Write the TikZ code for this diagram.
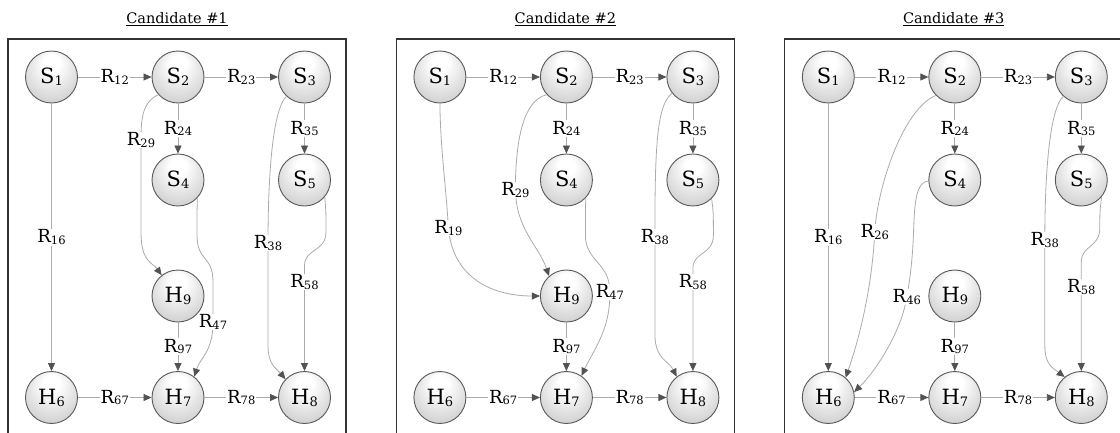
\documentclass[tikz,border=0pt]{standalone}
\usepackage{fontspec}
\setmainfont{DejaVu Serif}
\usetikzlibrary{arrows.meta}

% soft grey ball used for every state
\pgfdeclareradialshading{statefill}{\pgfpoint{0bp}{16bp}}{%
  color(0bp)=(white); color(8bp)=(white); color(36bp)=(black!22); color(50bp)=(black!40)}

% lowered indices for node names and rate labels
\newcommand\nsub[1]{\raisebox{-2pt}{\fontsize{13}{13}\selectfont #1}}
\newcommand\lsub[1]{\raisebox{-1.5pt}{\fontsize{11.5}{11.5}\selectfont #1}}

\tikzset{
  state/.style={circle, draw=black!65, line width=0.9pt, minimum size=52pt,
    inner sep=0pt, shading=statefill, font=\fontsize{21}{21}\selectfont},
  lbl/.style={fill=white, inner sep=1pt, font=\fontsize{18}{18}\selectfont},
  edge/.style={draw=black!33, line width=0.8pt,
    -{Triangle[length=8pt,width=7pt,color=black!68]}},
  panel/.style={draw=black!80, line width=1.2pt},
  title/.style={font=\fontsize{14.5}{14.5}\selectfont},
}

% the nine states of one candidate, names prefixed by #1
\newcommand\statenodes[1]{%
  \node[state] (#1s1) at (51.5,77)   {S\nsub{1}};
  \node[state] (#1s2) at (178,77)    {S\nsub{2}};
  \node[state] (#1s3) at (304.5,77)  {S\nsub{3}};
  \node[state] (#1s4) at (178,180)   {S\nsub{4}};
  \node[state] (#1s5) at (304.5,180) {S\nsub{5}};
  \node[state] (#1h9) at (178,296)   {H\nsub{9}};
  \node[state] (#1h6) at (51.5,397.5)  {H\nsub{6}};
  \node[state] (#1h7) at (178,397.5)   {H\nsub{7}};
  \node[state] (#1h8) at (304.5,397.5) {H\nsub{8}};
}

% straight transitions shared by all candidates
\newcommand\commonedges[1]{%
  \draw[edge] (#1s1) -- node[lbl]{R\lsub{12}} (#1s2);
  \draw[edge] (#1s2) -- node[lbl]{R\lsub{23}} (#1s3);
  \draw[edge] (#1s2) -- node[lbl]{R\lsub{24}} (#1s4);
  \draw[edge] (#1s3) -- node[lbl]{R\lsub{35}} (#1s5);
  \draw[edge] (#1h9) -- node[lbl]{R\lsub{97}} (#1h7);
  \draw[edge] (#1h6) -- node[lbl]{R\lsub{67}} (#1h7);
  \draw[edge] (#1h7) -- node[lbl]{R\lsub{78}} (#1h8);
}

\begin{document}
\begin{tikzpicture}[x=1pt, y=-1pt]
\clip (0,0) rectangle (1120,432);

% ---------------- candidate 1 ----------------
\begin{scope}
  \node[title] (t1) at (177,19) {\underline{Candidate \#1}};
  \draw[panel] (8,39) rectangle (346,460);
  \statenodes{a}
  \commonedges{a}
  \draw[edge] (as1) -- node[lbl]{R\lsub{16}} (ah6);
  \draw[edge] (as2.222) .. controls (142,102) and (141,120) .. (141,140)
    node[lbl]{R\lsub{29}} -- (141,232) .. controls (141,262) and (152,262) .. (ah9.128);
  \draw[edge] (as4.-43) .. controls (197,212) .. (197,235)
    .. controls (197,262) and (213,255) .. (213,282) -- (213,322) node[lbl]{R\lsub{47}}
    .. controls (213,352) and (200,358) .. (ah7.52);
  \draw[edge] (as3.227) .. controls (272,110) and (268,180) .. (268,243)
    node[lbl]{R\lsub{38}} -- (268,345) .. controls (268,365) and (276,368) .. (ah8.136);
  \draw[edge] (as5.-40) .. controls (326,212) .. (326,232)
    .. controls (326,252) and (304.5,248) .. (304.5,266) -- (304.5,282)
    node[lbl]{R\lsub{58}} -- (ah8);
\end{scope}

% ---------------- candidate 2 ----------------
\begin{scope}[xshift=388.4pt]
  \node[title] (t2) at (177,19) {\underline{Candidate \#2}};
  \draw[panel] (8,39) rectangle (346,460);
  \statenodes{b}
  \commonedges{b}
  \draw[edge] (bs1.south) .. controls (52,150) and (58,190) .. (60,228)
    node[lbl]{R\lsub{19}} .. controls (64,275) and (100,296) .. (bh9.west);
  \draw[edge] (bs2.222) .. controls (135,100) and (127,140) .. (127,190)
    node[lbl]{R\lsub{29}} .. controls (128,230) and (150,245) .. (bh9.131);
  \draw[edge] (bs4.-43) .. controls (197,215) .. (197,235)
    .. controls (197,262) and (221.5,262) .. (221.5,292) node[lbl]{R\lsub{47}}
    .. controls (222,330) and (205,350) .. (bh7.55);
  \draw[edge] (bs3.218) .. controls (268,105) and (266.5,150) .. (266.5,237)
    node[lbl]{R\lsub{38}} -- (266.5,335) .. controls (267,360) and (280,360) .. (bh8.128);
  \draw[edge] (bs5.-45) .. controls (325,212) .. (325,235)
    .. controls (325,255) and (304.5,252) .. (304.5,268) -- (304.5,282)
    node[lbl]{R\lsub{58}} -- (bh8);
\end{scope}

% ---------------- candidate 3 ----------------
\begin{scope}[xshift=776.8pt]
  \node[title] (t3) at (177,19) {\underline{Candidate \#3}};
  \draw[panel] (8,39) rectangle (346,460);
  \statenodes{c}
  \commonedges{c}
  \draw[edge] (cs1) -- node[lbl]{R\lsub{16}} (ch6);
  \draw[edge] (cs2.224) .. controls (125,110) and (100,190) .. (98,232)
    node[lbl]{R\lsub{26}} .. controls (95,290) and (82,340) .. (ch6.49);
  \draw[edge] (cs4.182) .. controls (140,182) and (138,200) .. (137,225)
    .. controls (136,260) and (133,280) .. (130,297) node[lbl]{R\lsub{46}}
    .. controls (125,330) and (100,370) .. (ch6.12);
  \draw[edge] (cs3.227) .. controls (272,110) and (268,180) .. (268,240)
    node[lbl]{R\lsub{38}} -- (268,345) .. controls (268,365) and (276,368) .. (ch8.129);
  \draw[edge] (cs5.-40) .. controls (323,212) .. (323,228)
    .. controls (323,248) and (304.5,245) .. (304.5,262) -- (304.5,287)
    node[lbl]{R\lsub{58}} -- (ch8);
\end{scope}
\end{tikzpicture}
\end{document}
